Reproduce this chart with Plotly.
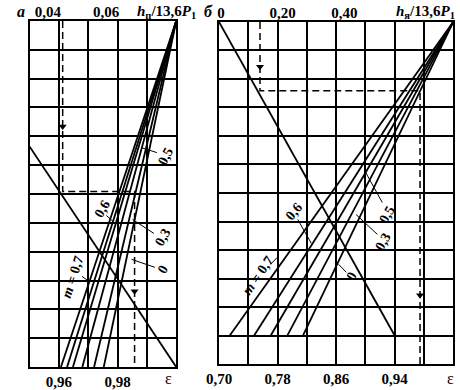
import plotly.graph_objects as go

W, H = 460, 390

# ---------------- Panel "а" data ----------------
eps_a_grid = [0.95, 0.96, 0.97, 0.98, 0.99, 1.00]
eps_a_ticks = [0.96, 0.98]
eps_a_labels = ['0,96', '0,98']
h_a_ticks = [0.04, 0.06]
h_a_labels = ['0,04', '0,06']
m_a = [0.7, 0.6, 0.5, 0.4, 0.3, 0.0]
fan_a_bottom_eps = [0.9607, 0.9628, 0.9648, 0.9680, 0.9720, 0.9753]
fan_a_bottom_y = 0.0
fan_a_top_eps = 1.00
fan_a_top_y = 12.0
desc_a_eps = [0.95, 1.00]
desc_a_y = [7.65, 0.0]
dash_a_eps = [0.9613, 0.9613, 0.9858, 0.9858]
dash_a_y = [12.0, 6.09, 6.09, 0.0]
arrow_a_eps = [0.9613, 0.9858]
arrow_a_y = [8.34, 2.63]

# ---------------- Panel "б" data ----------------
eps_b_grid = [0.70, 0.74, 0.78, 0.82, 0.86, 0.90, 0.94, 0.98, 1.02]
eps_b_ticks = [0.70, 0.78, 0.86, 0.94]
eps_b_labels = ['0,70', '0,78', '0,86', '0,94']
h_b_ticks = [0.0, 0.20, 0.40]
h_b_labels = ['0', '0,20', '0,40']
m_b = [0.7, 0.6, 0.5, 0.3, 0.0]
fan_b_bottom_eps = [0.7147, 0.7480, 0.7707, 0.7933, 0.8147]
fan_b_bottom_y = 1.0
fan_b_top_eps = 1.02
fan_b_top_y = 12.0
desc_b_eps = [0.70, 0.94]
desc_b_y = [12.0, 1.0]
dash_b_eps = [0.756, 0.756, 0.9747, 0.9747]
dash_b_y = [12.0, 9.59, 9.59, 0.0]
arrow_b_eps = [0.756, 0.9747]
arrow_b_y = [10.43, 2.41]

rows = [0, 1, 2, 3, 4, 5, 6, 7, 8, 9, 10, 11, 12]

FONT = 'Liberation Serif'
LW = 1.8
DASH = '7px,4px'


def px(x):
    return x / W


def py(y):
    return 1 - y / H


fig = go.Figure()

line = dict(color='black', width=LW)
for xb in fan_a_bottom_eps:
    fig.add_trace(go.Scatter(x=[xb, fan_a_top_eps], y=[fan_a_bottom_y, fan_a_top_y],
                             mode='lines', line=line, xaxis='x', yaxis='y'))
fig.add_trace(go.Scatter(x=desc_a_eps, y=desc_a_y, mode='lines', line=line, xaxis='x', yaxis='y'))
fig.add_trace(go.Scatter(x=dash_a_eps, y=dash_a_y, mode='lines',
                         line=dict(color='black', width=1.5, dash=DASH), xaxis='x', yaxis='y'))
fig.add_trace(go.Scatter(x=arrow_a_eps, y=arrow_a_y, mode='markers',
                         marker=dict(symbol='triangle-down', size=7, color='black'), xaxis='x', yaxis='y'))

for xb in fan_b_bottom_eps:
    fig.add_trace(go.Scatter(x=[xb, fan_b_top_eps], y=[fan_b_bottom_y, fan_b_top_y],
                             mode='lines', line=line, xaxis='x2', yaxis='y2'))
fig.add_trace(go.Scatter(x=desc_b_eps, y=desc_b_y, mode='lines', line=line, xaxis='x2', yaxis='y2'))
fig.add_trace(go.Scatter(x=dash_b_eps, y=dash_b_y, mode='lines',
                         line=dict(color='black', width=1.5, dash=DASH), xaxis='x2', yaxis='y2'))
fig.add_trace(go.Scatter(x=arrow_b_eps, y=arrow_b_y, mode='markers',
                         marker=dict(symbol='triangle-down', size=7, color='black'), xaxis='x2', yaxis='y2'))

# invisible traces so that the top axes exist
fig.add_trace(go.Scatter(x=h_a_ticks, y=[0, 0], mode='markers', marker=dict(opacity=0),
                         xaxis='x3', yaxis='y', hoverinfo='skip'))
fig.add_trace(go.Scatter(x=h_b_ticks, y=[0, 0, 0], mode='markers', marker=dict(opacity=0),
                         xaxis='x4', yaxis='y2', hoverinfo='skip'))

tickfont = dict(family=FONT, size=15, color='black', weight='bold')
dom_a_x = [px(17), px(168)]
dom_a_y = [py(368), py(21)]
dom_b_x = [px(212), px(453)]
dom_b_y = [py(365), py(22)]

base = dict(showgrid=True, gridcolor='black', gridwidth=LW, showline=True, mirror=True,
            linecolor='black', linewidth=2.2, ticks='', zeroline=False, tickmode='array',
            fixedrange=True)

fig.update_layout(
    width=W, height=H, margin=dict(l=0, r=0, t=0, b=0), autosize=False,
    paper_bgcolor='white', plot_bgcolor='white', showlegend=False,
    xaxis=dict(domain=dom_a_x, anchor='y', range=[0.95, 1.0], tickvals=eps_a_ticks,
               ticktext=eps_a_labels, tickfont=tickfont,
               minor=dict(tickmode='array', tickvals=eps_a_grid, showgrid=True,
                          gridcolor='black', gridwidth=LW, ticks=''), **base),
    yaxis=dict(domain=dom_a_y, anchor='x', range=[0, 12], tickvals=rows,
               showticklabels=False, **base),
    xaxis2=dict(domain=dom_b_x, anchor='y2', range=[0.70, 1.02], tickvals=eps_b_ticks,
                ticktext=eps_b_labels, tickfont=tickfont,
                minor=dict(tickmode='array', tickvals=eps_b_grid, showgrid=True,
                           gridcolor='black', gridwidth=LW, ticks=''), **base),
    yaxis2=dict(domain=dom_b_y, anchor='x2', range=[0, 12], tickvals=rows,
                showticklabels=False, **base),
    xaxis3=dict(domain=dom_a_x, overlaying='x', anchor='y', side='top', range=[0.0337, 0.084],
                tickmode='array', tickvals=h_a_ticks, ticktext=h_a_labels, showgrid=False,
                showline=False, ticks='', zeroline=False, tickfont=tickfont, fixedrange=True),
    xaxis4=dict(domain=dom_b_x, overlaying='x2', anchor='y2', side='top', range=[-0.0063, 0.7528],
                tickmode='array', tickvals=h_b_ticks, ticktext=h_b_labels, showgrid=False,
                showline=False, ticks='', zeroline=False, tickfont=tickfont, fixedrange=True),
)

ann = []


def text(x, y, t, size=14, angle=0, xanchor='center', weight='bold'):
    ann.append(dict(x=px(x), y=py(y), xref='paper', yref='paper', text=t, showarrow=False,
                    textangle=angle, xanchor=xanchor, yanchor='middle',
                    font=dict(family=FONT, size=size, color='black', weight=weight)))


shapes = []


def leader(x0, y0, x1, y1):
    shapes.append(dict(type='line', xref='paper', yref='paper', x0=px(x0), y0=py(y0),
                       x1=px(x1), y1=py(y1), line=dict(color='black', width=1)))


# panel letters and axis titles
text(8, 12, '<i>а</i>', size=16)
text(201, 12, '<i>б</i>', size=16)
text(126, 12, '<i>h</i><sub>п</sub>/13,6<i>P</i><sub>1</sub>', size=15, xanchor='left')
text(392, 12, '<i>h</i><sub>я</sub>/13,6<i>P</i><sub>1</sub>', size=15, xanchor='left')
text(160, 379, 'ε', size=16, weight='normal')
text(450, 379, 'ε', size=16, weight='normal')

# curve labels panel а
text(157, 157, '0,5', angle=-62)
leader(132, 148, 148, 153)
text(92, 209, '0,6', angle=-60)
leader(96, 216, 103, 222)
text(154, 238, '0,3', angle=-60)
leader(123, 220, 145, 234)
text(154, 270, '0', angle=-60)
leader(122, 260, 146, 268)
text(61, 278, '<i>m</i> = 0,7', angle=-72)
leader(71, 277, 78, 282)

# curve labels panel б
text(289, 212, '0,6', angle=-50)
leader(293, 220, 307, 244)
text(385, 215, '0,5', angle=-60)
leader(363, 173, 380, 203)
text(381, 242, '0,3', angle=-60)
leader(353, 215, 375, 235)
text(348, 277, '0', angle=-60)
leader(335, 265, 343, 273)
text(252, 276, '<i>m</i> = 0,7', angle=-55)
leader(265, 265, 272, 258)

fig.update_layout(annotations=ann, shapes=shapes)

fig.write_html('out.html', config=dict(displayModeBar=False),
               post_script="document.body.style.margin='0';document.body.style.padding='0';")
